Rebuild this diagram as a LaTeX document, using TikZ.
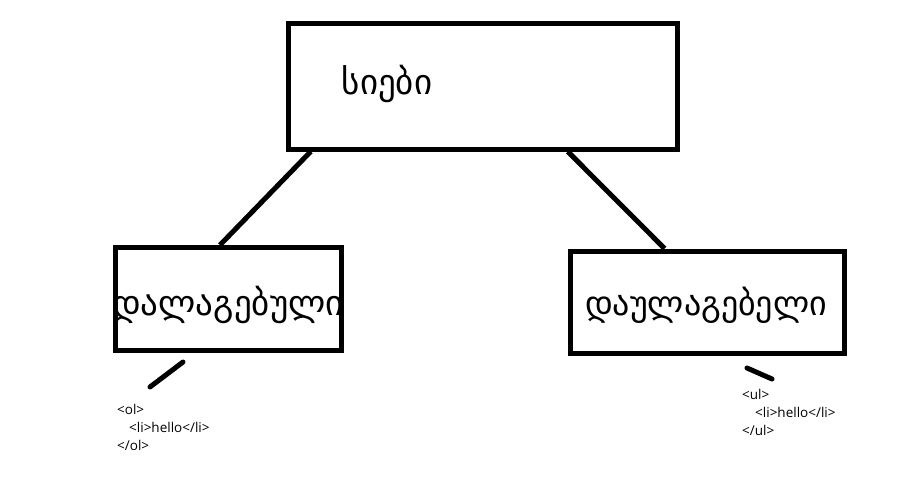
\documentclass[tikz,border=0pt]{standalone}
\usepackage{fontspec}
\newfontfamily\geofont[Script=Georgian]{DejaVu Sans}
\newfontfamily\codefont{Open Sans}
\usetikzlibrary{calc}
\begin{document}
\begin{tikzpicture}[x=1pt,y=-1pt,
  boxnode/.style={draw=black,line width=5pt,minimum width=#1,inner sep=0pt},
  link/.style={line width=5pt,draw=black},
  tick/.style={line width=5pt,draw=black,line cap=round},
  geotext/.style={inner sep=0pt,font=\geofont},
  codetext/.style={inner sep=0pt,anchor=west,font=\codefont\fontsize{13.5}{16}\selectfont}]
\useasboundingbox[fill=white] (0,0) rectangle (911,503);
% boxes
\node[boxnode=389pt,minimum height=125.5pt] (top) at (482.75,86.25) {};
\node[boxnode=226pt,minimum height=102.5pt] (left) at (228.5,298.75) {};
\node[boxnode=274pt,minimum height=102.5pt] (right) at (707,302.25) {};
% labels
\node[geotext,font=\geofont\fontsize{35}{40}\selectfont] (ttop) at (387,84) {სიები};
\node[geotext,font=\geofont\fontsize{35}{40}\selectfont] (tleft) at (228,305) {დალაგებული};
\node[geotext,font=\geofont\fontsize{34}{40}\selectfont] (tright) at (706,305) {დაულაგებელი};
% connectors
\coordinate (a1) at ($(top.south west)+(25,0)$);
\coordinate (a2) at ($(left.north west)+(107,0)$);
\coordinate (b1) at ($(top.south west)+(282,0)$);
\coordinate (b2) at ($(right.north west)+(97,0)$);
\draw[link] (a1) -- (a2);
\draw[link] (b1) -- (b2);
% ticks
\coordinate (t1a) at (150,387);
\coordinate (t1b) at (183,362);
\coordinate (t2a) at (747,368);
\coordinate (t2b) at (772,379);
\draw[tick] (t1a) -- (t1b);
\draw[tick] (t2a) -- (t2b);
% code
\node[codetext] (ol1) at (117,409) {<ol>};
\node[codetext] (ol2) at (129,427) {<li>hello</li>};
\node[codetext] (ol3) at (117,445) {</ol>};
\node[codetext] (ul1) at (742,394) {<ul>};
\node[codetext] (ul2) at (755,412) {<li>hello</li>};
\node[codetext] (ul3) at (742,430) {</ul>};
\end{tikzpicture}
\end{document}
